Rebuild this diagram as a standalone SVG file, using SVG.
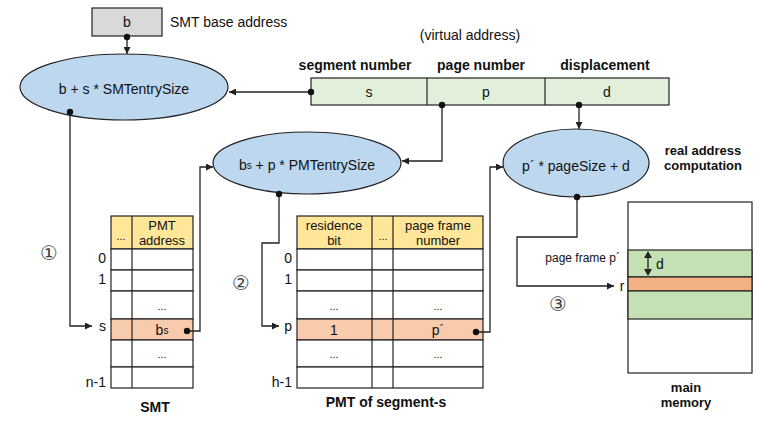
<svg xmlns="http://www.w3.org/2000/svg" width="769" height="423" viewBox="0 0 769 423">
<style>
text{font-family:"Liberation Sans",Arial,sans-serif;font-size:14px;fill:#111;text-anchor:middle;dominant-baseline:central}
.b{font-weight:bold}
.r{text-anchor:end}
.l{text-anchor:start}
.sm{font-size:11px}
.pf{font-size:12px}
.h{font-size:13px}
.ell{fill:#bdd7ee;stroke:#222;stroke-width:1.2}
.cell{stroke:#222;stroke-width:1.2}
.line{fill:none;stroke:#222;stroke-width:1.3}
.dot{fill:#111}
.circ{font-family:"DejaVu Sans",sans-serif;font-size:20px;fill:#444}
</style>
<defs>
<marker id="ah" viewBox="0 0 10 10" refX="10" refY="5" markerWidth="7" markerHeight="7" orient="auto" markerUnits="userSpaceOnUse"><path d="M0,0L10,5L0,10z" fill="#222"/></marker>
</defs>

<g id="base">
<rect x="92" y="8" width="70" height="28" fill="#d9d9d9" stroke="#222" stroke-width="1.2"/>
<text x="127" y="22">b</text>
<text x="170" y="22" class="l">SMT base address</text>
</g>

<g id="vaddr">
<text x="470" y="35">(virtual address)</text>
<text x="355" y="65" class="b">segment number</text>
<text x="481" y="65" class="b">page number</text>
<text x="605" y="65" class="b">displacement</text>
<rect x="311" y="78" width="358" height="27" fill="#e2efda" stroke="#222" stroke-width="1.2"/>
<line x1="427" y1="78" x2="427" y2="105" class="cell"/>
<line x1="545" y1="78" x2="545" y2="105" class="cell"/>
<text x="369" y="92">s</text>
<text x="486" y="92">p</text>
<text x="607" y="92">d</text>
</g>

<g id="e1">
<ellipse cx="124" cy="87" rx="104" ry="33" class="ell"/>
<text x="124" y="89">b + s * SMTentrySize</text>
</g>
<g id="e2">
<ellipse cx="307" cy="163" rx="94" ry="31" class="ell"/>
<text x="307" y="165">b<tspan font-size="10">s</tspan> + p * PMTentrySize</text>
</g>
<g id="e3">
<ellipse cx="576" cy="163" rx="73" ry="34" class="ell"/>
<text x="576" y="166">p´ * pageSize + d</text>
<text x="703" y="150" class="b h">real address</text>
<text x="703" y="165" class="b h">computation</text>
</g>

<g id="smt">
<rect x="111" y="216" width="82" height="33" fill="#ffe699" class="cell"/>
<rect x="111" y="249" width="82" height="21" fill="#fff" class="cell"/>
<rect x="111" y="270" width="82" height="21" fill="#fff" class="cell"/>
<rect x="111" y="291" width="82" height="28" fill="#fff" class="cell"/>
<rect x="111" y="319" width="82" height="21" fill="#f8cbad" class="cell"/>
<rect x="111" y="340" width="82" height="27" fill="#fff" class="cell"/>
<rect x="111" y="367" width="82" height="21" fill="#fff" class="cell"/>
<line x1="132" y1="216" x2="132" y2="388" class="cell"/>
<text x="121" y="236" class="sm">...</text>
<text x="162" y="225" class="h">PMT</text>
<text x="162" y="240" class="h">address</text>
<text x="162" y="306" class="sm">...</text>
<text x="162" y="330">b<tspan font-size="10">s</tspan></text>
<text x="162" y="354" class="sm">...</text>
<text x="106" y="258" class="r">0</text>
<text x="106" y="279" class="r">1</text>
<text x="106" y="326" class="r">s</text>
<text x="106" y="382" class="r">n-1</text>
<text x="155" y="407" class="b">SMT</text>
</g>

<g id="pmt">
<rect x="297" y="216" width="186" height="33" fill="#ffe699" class="cell"/>
<rect x="297" y="249" width="186" height="21" fill="#fff" class="cell"/>
<rect x="297" y="270" width="186" height="21" fill="#fff" class="cell"/>
<rect x="297" y="291" width="186" height="28" fill="#fff" class="cell"/>
<rect x="297" y="319" width="186" height="21" fill="#f8cbad" class="cell"/>
<rect x="297" y="340" width="186" height="27" fill="#fff" class="cell"/>
<rect x="297" y="367" width="186" height="21" fill="#fff" class="cell"/>
<line x1="372" y1="216" x2="372" y2="388" class="cell"/>
<line x1="393" y1="216" x2="393" y2="388" class="cell"/>
<text x="334" y="225" class="h">residence</text>
<text x="334" y="240" class="h">bit</text>
<text x="383" y="236" class="sm">...</text>
<text x="438" y="225" class="h">page frame</text>
<text x="438" y="240" class="h">number</text>
<text x="334" y="306" class="sm">...</text>
<text x="438" y="306" class="sm">...</text>
<text x="334" y="330">1</text>
<text x="438" y="330">p´</text>
<text x="334" y="354" class="sm">...</text>
<text x="438" y="354" class="sm">...</text>
<text x="292" y="258" class="r">0</text>
<text x="292" y="279" class="r">1</text>
<text x="292" y="326" class="r">p</text>
<text x="292" y="382" class="r">h-1</text>
<text x="386" y="402" class="b">PMT of segment-s</text>
</g>

<g id="mem">
<rect x="628" y="202" width="124" height="171" fill="#fff" class="cell"/>
<rect x="628" y="250" width="124" height="27" fill="#c5e0b4" class="cell"/>
<rect x="628" y="277" width="124" height="14" fill="#f4b183" class="cell"/>
<rect x="628" y="291" width="124" height="28" fill="#c5e0b4" class="cell"/>
<line x1="648" y1="258" x2="648" y2="269" class="line"/>
<path d="M644,258L648,251L652,258z M644,269L648,276L652,269z" fill="#222"/>
<text x="660" y="264">d</text>
<text x="620" y="258" class="r pf">page frame p´</text>
<text x="622" y="286">r</text>
<text x="686" y="387" class="b h">main</text>
<text x="686" y="402" class="b h">memory</text>
</g>

<g id="steps">
<text x="49" y="253" class="circ">①</text>
<text x="241" y="283" class="circ">②</text>
<text x="558" y="304" class="circ">③</text>
</g>

<g id="connectors">
<path d="M127,37V54" class="line" marker-end="url(#ah)"/>
<path d="M311,92H229" class="line" marker-end="url(#ah)"/>
<path d="M70,112V326H92" class="line" marker-end="url(#ah)"/>
<path d="M442,105V161H402" class="line" marker-end="url(#ah)"/>
<path d="M579,105V129" class="line" marker-end="url(#ah)"/>
<path d="M187,331H200V167H213" class="line" marker-end="url(#ah)"/>
<path d="M279,194V243H262V326H279" class="line" marker-end="url(#ah)"/>
<path d="M476,332H490V167H503" class="line" marker-end="url(#ah)"/>
<path d="M577,197V237H517V286H614" class="line" marker-end="url(#ah)"/>
<circle cx="127" cy="37" r="3.2" class="dot"/>
<circle cx="311" cy="92" r="3.2" class="dot"/>
<circle cx="70" cy="112" r="3.2" class="dot"/>
<circle cx="442" cy="105" r="3.2" class="dot"/>
<circle cx="579" cy="105" r="3.2" class="dot"/>
<circle cx="187" cy="331" r="3.2" class="dot"/>
<circle cx="279" cy="194" r="3.2" class="dot"/>
<circle cx="476" cy="332" r="3.2" class="dot"/>
<circle cx="577" cy="197" r="3.2" class="dot"/>
</g>
</svg>
